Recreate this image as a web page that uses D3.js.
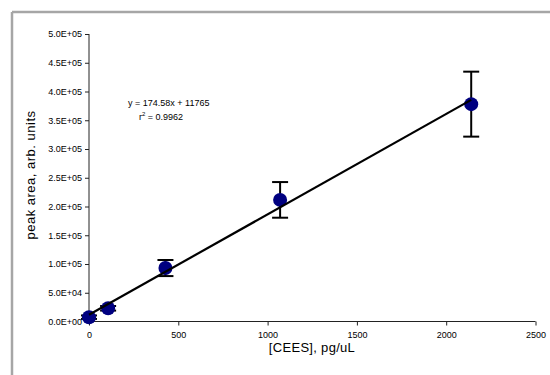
<!DOCTYPE html>
<html>
<head>
<style>
  html, body { margin: 0; background: #fff; overflow: hidden; }
  svg { display: block; overflow: hidden; }
  svg text { font-family: "Liberation Sans", Arial, sans-serif; fill: #000; }
  .axis path, .axis line { stroke: #222; }
  .axis text { font-size: 9px; }
</style>
<script src="https://cdn.jsdelivr.net/npm/d3@7"></script>
</head>
<body>
<svg width="550" height="375"></svg>
<script>
// concentrations and mean peak areas with error
var conc = [0, 107, 428, 1070, 2140];
var area = [7500, 23000, 93000, 211500, 378000];
var err = [3000, 4000, 14000, 31000, 56500];
var fitSlope = 174.58, fitIntercept = 11765;
var xTicks = [0, 500, 1000, 1500, 2000, 2500];
var yTicks = d3.range(0, 500001, 50000);

var svg = d3.select("svg");

// outer chart frame: top and left edges only
svg.append("line")
  .attr("x1", 12).attr("y1", 12).attr("x2", 550).attr("y2", 12)
  .attr("stroke", "#a6a6a6").attr("stroke-width", 2.5);
svg.append("line")
  .attr("x1", 12).attr("y1", 12).attr("x2", 12).attr("y2", 375)
  .attr("stroke", "#a6a6a6").attr("stroke-width", 2.5);

var x = d3.scaleLinear().domain([0, 2500]).range([89, 535.5]);
var y = d3.scaleLinear().domain([0, 500000]).range([321.5, 34]);

function sci(d) {
  if (d === 0) return "0.0E+00";
  var e = Math.floor(Math.log10(d));
  var m = d / Math.pow(10, e);
  return m.toFixed(1) + "E+" + (e < 10 ? "0" : "") + e;
}

svg.append("g")
  .attr("class", "axis")
  .attr("transform", "translate(0,321.5)")
  .call(d3.axisBottom(x).tickValues(xTicks).tickSize(4).tickPadding(6).tickFormat(d3.format("d")));

svg.append("g")
  .attr("class", "axis")
  .attr("transform", "translate(89,0)")
  .call(d3.axisLeft(y).tickValues(yTicks).tickSize(4).tickPadding(3).tickFormat(sci));

// plain axis lines without the end ticks
svg.selectAll(".axis path").remove();
svg.append("line").attr("x1", x(0)).attr("x2", x(2500)).attr("y1", y(0)).attr("y2", y(0)).attr("stroke", "#222");
svg.append("line").attr("x1", x(0)).attr("x2", x(0)).attr("y1", y(0)).attr("y2", y(500000)).attr("stroke", "#222");

// axis titles
svg.append("text")
  .attr("x", 312).attr("y", 352)
  .attr("text-anchor", "middle")
  .style("font-size", "13px")
  .style("letter-spacing", "0.3px")
  .text("[CEES], pg/uL");

svg.append("text")
  .attr("transform", "translate(35,175) rotate(-90)")
  .attr("text-anchor", "middle")
  .style("font-size", "13px")
  .style("letter-spacing", "0.5px")
  .text("peak area, arb. units");

var pts = conc.map(function(c, i) { return { c: c, a: area[i], e: err[i] }; });

// error bars
var eb = svg.append("g").attr("stroke", "#000").attr("stroke-width", 2);
eb.selectAll(".v").data(pts).enter().append("line")
  .attr("x1", function(d) { return x(d.c); }).attr("x2", function(d) { return x(d.c); })
  .attr("y1", function(d) { return y(d.a + d.e); }).attr("y2", function(d) { return y(d.a - d.e); });
[1, -1].forEach(function(s) {
  eb.selectAll(".cap" + s).data(pts).enter().append("line")
    .attr("x1", function(d) { return x(d.c) - 8; }).attr("x2", function(d) { return x(d.c) + 8; })
    .attr("y1", function(d) { return y(d.a + s * d.e); }).attr("y2", function(d) { return y(d.a + s * d.e); });
});

// points
svg.selectAll("circle").data(pts).enter().append("circle")
  .attr("cx", function(d) { return x(d.c); })
  .attr("cy", function(d) { return y(d.a); })
  .attr("r", 7)
  .attr("fill", "#000080");

// linear fit
svg.append("line")
  .attr("x1", x(0)).attr("y1", y(fitIntercept))
  .attr("x2", x(d3.max(conc))).attr("y2", y(fitSlope * d3.max(conc) + fitIntercept))
  .attr("stroke", "#000").attr("stroke-width", 2.2);

svg.append("text")
  .attr("x", 128).attr("y", 106)
  .style("font-size", "9px")
  .text("y = " + fitSlope + "x + " + fitIntercept);

var r2 = svg.append("text")
  .attr("x", 139).attr("y", 120)
  .style("font-size", "9px");
r2.append("tspan").text("r");
r2.append("tspan").attr("dy", -4).style("font-size", "6px").text("2");
r2.append("tspan").attr("dy", 4).text(" = 0.9962");
</script>
</body>
</html>
